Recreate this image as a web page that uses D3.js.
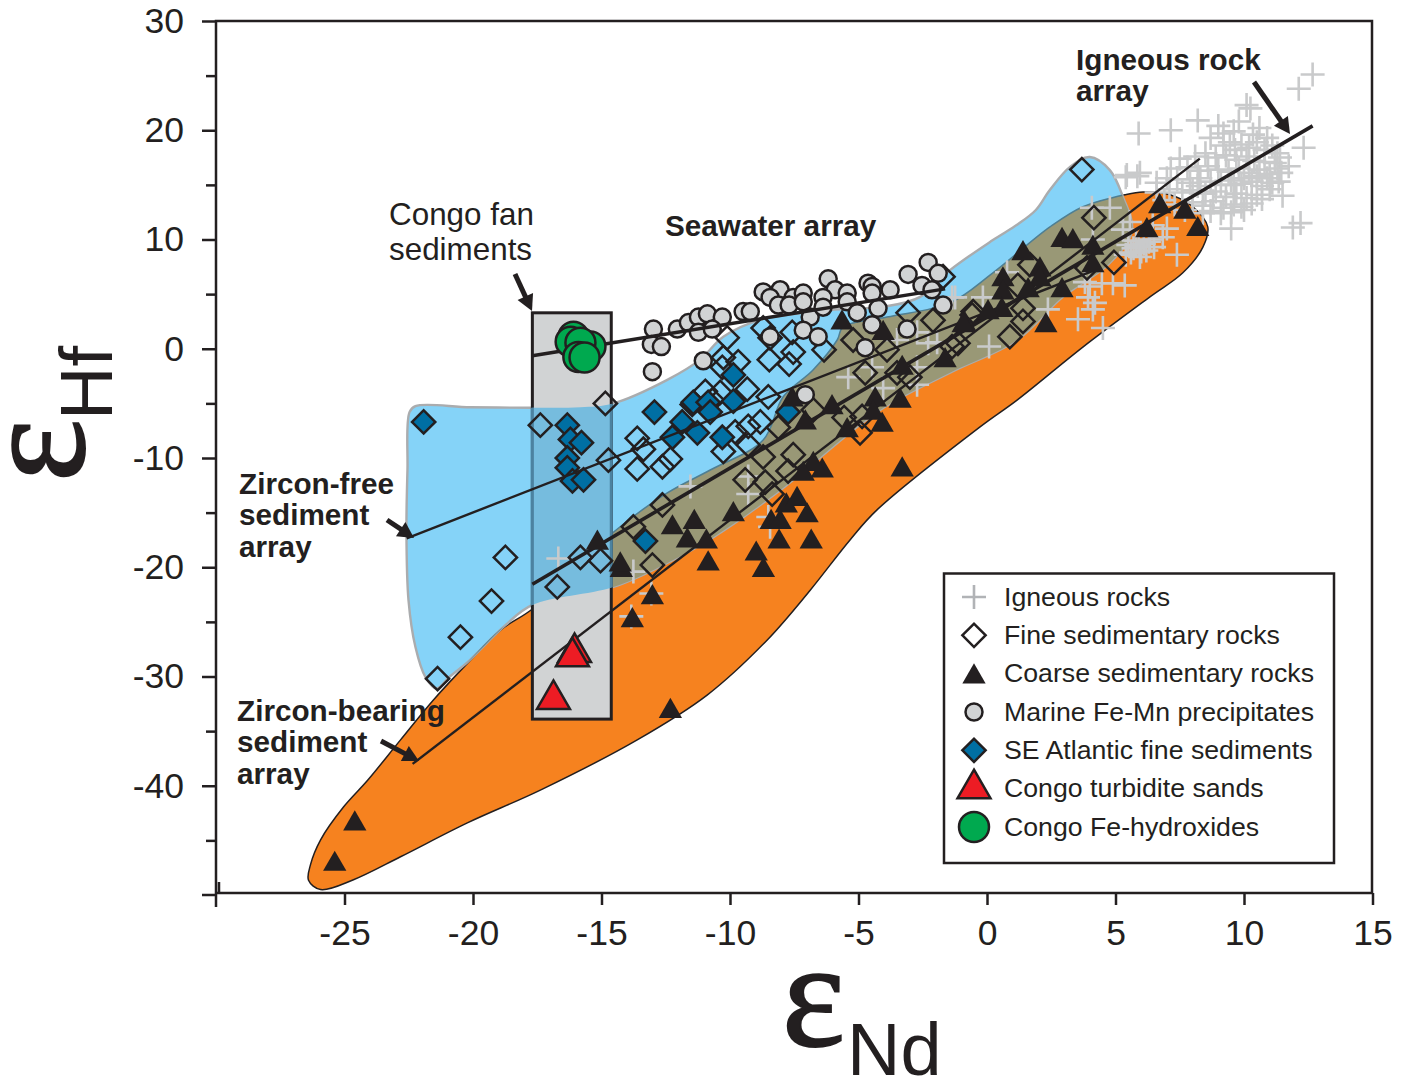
<!DOCTYPE html>
<html>
<head>
<meta charset="utf-8">
<title>eNd - eHf</title>
<script src="https://cdn.jsdelivr.net/npm/d3@7"></script>
<style>
    html, body { margin: 0; padding: 0; background: #fff; }
    svg { display: block; }
    text { font-family: "Liberation Sans", Arial, sans-serif; fill: #231f20; }
</style>
</head>
<body>
<svg id="chart" width="1412" height="1080"></svg>
<script>
'use strict';

const xTicks = [-25, -20, -15, -10, -5, 0, 5, 10, 15];
const yTicks = [30, 20, 10, 0, -10, -20, -30, -40];
const yMinorTicks = [25, 15, 5, -5, -15, -25, -35, -45];

const legendLabels = ['Igneous rocks', 'Fine sedimentary rocks', 'Coarse sedimentary rocks',
    'Marine Fe-Mn precipitates', 'SE Atlantic fine sediments', 'Congo turbidite sands', 'Congo Fe-hydroxides'];

// field outlines, in epsilon units
const coarseField = [[-26.4, -48.65], [-26.32, -47.2], [-25.93, -44.95], [-25.04, -41.95], [-24.1, -39.5], [-22.82, -35.8],
    [-21.54, -32.15], [-20.22, -28.8], [-18.93, -25.75], [-17.65, -23.75], [-14.54, -16.8], [-12.44, -13.2], [-10.77, -11.1], [-8.71, -8.35],
    [-7.93, -4.4], [-6.77, -1.95], [-5.83, 0.8], [-5.6, 2], [-3.89, 2.9], [-1.44, 4.2], [0.23, 6.95], [2.45, 11.15],
    [3.73, 13], [5.37, 14.1], [6.07, 14.35], [7.12, 14.1], [8.01, 13], [8.59, 11.15], [8.4, 9.3], [7.62, 6.95],
    [6.34, 4.75], [3.73, 0.15], [1.17, -4.7], [-0.27, -7.15], [-4.28, -14.75], [-5.33, -17.5], [-6.88, -22.1],
    [-8.55, -26.65], [-10.89, -31.7], [-13.61, -35.8], [-17.38, -40.4], [-20.22, -43.4], [-22.82, -46.5],
    [-24.65, -48.6], [-25.93, -49.5]];

const fineField = [[-22.47, -5.8], [-22.24, -5.25], [-20.1, -5.35], [-17.69, -5.4], [-15.82, -5.35], [-14.54, -5],
    [-12.44, -2.85], [-11.16, -1], [-10.26, 1.1], [-8.83, 2.65], [-6.1, 3.55], [-3.89, 3.9], [-2.6, 4.75], [-1.44, 7.2],
    [0.23, 9.95], [1.2, 11.4], [1.9, 12.7], [2.45, 14.55], [3.23, 16.65], [4, 17.55], [4.78, 16.35], [5.29, 13.9], [5.64, 10.85],
    [4.78, 7.85], [2.95, 4.75], [1.17, 0.8], [-1.44, -2.2], [-4.16, -5.6], [-8.05, -12.95], [-10.65, -17.25],
    [-12.44, -19.6], [-14.54, -21.8], [-17.69, -23.45], [-18.74, -25.3], [-20.22, -28.7], [-20.9, -30], [-21.42, -31.1],
    [-21.85, -30.05], [-22.24, -27.3], [-22.51, -23], [-22.59, -16.6], [-22.55, -11.1]];

const congoBox = [[-17.69, 3.29], [-14.62, -33.9]];

// regression arrays
const seawaterArray = [[-17.69, -0.64], [-1.63, 5.48]];
const zirconFreeArray = [[-22.58, -17.35], [4.2, 7.2]];
const zirconBearingArray = [[-22.35, -38], [8.28, 17.4]];
const igneousArray = [[-17.69, -21.55], [12.67, 20.4]];

const igneousRocks = [[12.67, 25.1], [12.13, 23.8], [12.32, 18.4], [11.74, 16.7], [11.5, 14], [12.2, 11.5], [11.9, 11.1],
    [9.5, 11], [10.1, 22.3], [10.25, 22], [5.9, 19.7], [7.15, 20], [8.2, 20.9], [9, 20.4], [8.7, 19.3], [9.8, 20.8],
    [10.6, 20.2], [10.9, 19.3], [7.5, 17.4], [7.15, 16.5], [5.85, 15.8], [5.4, 15.7],
    [9.2, 18.6], [9.45, 18.9], [9.9, 18.7], [10.2, 18.4], [10.5, 18.9], [10.8, 18.2], [11.1, 18.6], [11.3, 17.9],
    [8.1, 17.6], [8.5, 17.9], [8.9, 17.5], [9.3, 17.7], [9.7, 17.3], [10.1, 17.6], [10.4, 17.2], [10.8, 17.1], [11.2, 17],
    [7.8, 16.6], [8.2, 16.3], [8.6, 16.7], [9, 16.4], [9.4, 16.2], [9.8, 16.5], [10.2, 16.1], [10.6, 16.4], [11, 16], [11.3, 16.5],
    [7.4, 15.5], [7.9, 15.2], [8.3, 15.6], [8.7, 15.3], [9.1, 15], [9.5, 15.4], [9.9, 15.1], [10.3, 15.3], [10.7, 14.9], [11.1, 15.2],
    [7.1, 14.6], [7.6, 14.3], [8, 14.5], [8.5, 14.2], [8.9, 14.4], [9.3, 13.9], [9.7, 14.2], [10.1, 13.8], [10.5, 14.1],
    [8, 13.4], [8.4, 13.1], [8.8, 13.5], [9.2, 12.9], [9.6, 13.2], [10, 12.7], [6.6, 15.2], [6.9, 13.6], [7.3, 13.2], [7.7, 12.7],
    [11.4, 17.5], [11.45, 16.1], [11.35, 15.3], [11, 14.6], [10.7, 13.7], [10.3, 13.3], [9.9, 13], [9.5, 12.5], [9.1, 12.4],
    [8.7, 12.6], [8.4, 12.4], [10.9, 15.6], [10.5, 15.8], [10, 15.6], [9.6, 15], [8.2, 14.9], [7, 15.6], [6.6, 14.3],
    [9.65, 18.2], [10.35, 19.6], [9.2, 19.7], [9.6, 19.9],
    [5.5, 9.5], [5.7, 9.2], [5.9, 9.4], [6.1, 9.6], [6.2, 9], [5.6, 8.8], [6, 8.9], [5.8, 9.9], [6.3, 9.8], [6.5, 9.3], [5.4, 8.6],
    [5.56, 11.6], [6.45, 11.3], [7, 11], [6.84, 10.2], [7.39, 8.6], [6.34, 10], [5.95, 8.4], [4.78, 12.9], [4.08, 12.9],
    [5.95, 16.1], [5.44, 15.9], [5.36, 5.8], [4.9, 6], [4.47, 6], [3.93, 4.7], [4.2, 4.2], [4.12, 3.6], [3.54, 2.7], [4.51, 1.9],
    [0.08, 0.2], [2.37, 3.6], [-1.36, 4.7], [-0.16, 4.7], [0.78, 7], [4, 5.7], [3.81, 6.1], [4.12, 10], [5.29, 10.9],
    [-5.4, -2.6], [-4.47, -1.7], [-4.04, -3.6], [-2.72, -3.3], [-2.72, -1.7], [-3.5, 0.8], [-2.72, 1.5], [-2.29, 0.5], [-1.94, 0.6],
    [-1.24, 4.7], [-9.29, -11.7], [-9.29, -13.3], [-11.54, -12.6], [-8.44, -16.3], [-16.68, -19.2], [-13.76, -20.4],
    [-13.06, -22.4], [-13.84, -24.5], [-8.51, -15.4]];

const fineSediments = [[-14.85, -5], [-17.38, -7], [-14.73, -10.2], [-18.74, -19.1], [-15.82, -19.1], [-15.04, -19.4],
    [-16.72, -21.8], [-19.28, -23.1], [-20.49, -26.4], [-21.38, -30.2], [-13.61, -8.2], [-13.37, -9.2], [-13.61, -11],
    [-12.63, -10.8], [-12.32, -10.1], [-12.63, -14.3], [-13.76, -16.3], [-13.02, -19.8], [-10.11, 1], [-10.26, -0.8],
    [-9.68, -1.2], [-10.3, -1.7], [-8.47, -1], [-7.54, -0.3], [-7.7, -1.4], [-7.58, 1.5], [-8.71, 1.9], [-8.44, 1],
    [-6.34, -0.1], [-5.21, 0.8], [-3.89, -0.1], [-4.74, -2.2], [-3.5, -2.2], [-3.07, 3.3], [-2.1, 2.6], [-1.71, 6.6],
    [-0.58, 3.1], [-1.13, 0.5], [-9.33, -3.7], [-8.51, -4.4], [-10.96, -3.9], [-10.38, -4], [-10.69, -4.7], [-6.76, -5.6],
    [-8.12, -7.2], [-5.56, -6.3], [-4.94, -7.7], [-4.86, -6.2], [-9.8, -7.6], [-9.29, -7.1], [-8.82, -6.7], [-9.29, -8.8],
    [-10.26, -9.4], [-8.71, -9.9], [-7.54, -9.7], [-7.74, -11.2], [-9.41, -12], [-8.63, -12.2], [-8.36, -13.3], [-3, -2.6],
    [3.69, 16.4], [4.16, 12], [4.94, 7.9], [1.67, 7.7], [1.2, 5.8], [0.89, 1.1], [1.4, 2.5], [1.4, 3.7], [-0.54, 3.4],
    [-1.36, 0.2], [3.89, 7.4]];

const coarseSediments = [[-25.38, -46.9], [-24.6, -43.2], [-12.32, -32.9], [-13.8, -24.6], [-13.02, -22.5], [-14.23, -20],
    [-14.27, -19.5], [-15.16, -17.5], [-12.24, -16.1], [-11.39, -15.6], [-11.66, -17.3], [-10.92, -17.4], [-10.85, -19.4],
    [-9.87, -14.9], [-8.98, -18.5], [-8.7, -20], [-8.09, -17.4], [-8.4, -15.6], [-8.05, -15.6], [-6.84, -17.4], [-7, -15],
    [-7.81, -14.1], [-7.39, -13.5], [-6.41, -10.9], [-6.76, -10.3], [-7.15, -11.2], [-3.3, -10.8], [-4.08, -6.7], [-3.38, -4.5],
    [-4.35, -4.4], [-4.43, -5.6], [-5.44, -7.2], [-3.3, -1.5], [-1.63, -0.8], [-4.04, 1.7], [-5.64, 2.65], [-6.03, -5.1],
    [-7.07, -6.5], [-7.58, -4.4], [-0.86, 2.5], [1.4, 9], [2.92, 10.2], [3.34, 10.1], [4.12, 9.5], [4.12, 7.9], [6.22, 11.1],
    [6.72, 13.3], [7.7, 12.8], [8.2, 11.2], [2.92, 5.6], [2.29, 2.4], [2.06, 7.5], [2.06, 6.6], [1.6, 5.6], [0.62, 6.6],
    [0.62, 5.4], [0.58, 3.8], [0.04, 3.6], [-0.93, 2.4]];

const feMnPrecipitates = [[-12.98, 1.8], [-13.06, 0.4], [-12.67, 0.2], [-13.02, -2.1], [-12.05, 1.8], [-11.62, 2.4], [-11.23, 2.9],
    [-10.88, 3.2], [-10.3, 2.9], [-9.49, 3.4], [-9.21, 3.4], [-11.23, 1.5], [-10.69, 1.8], [-11.04, -1.1], [-8.71, 5.2], [-8.05, 5.4],
    [-8.44, 4.7], [-7.54, 4.7], [-7.15, 5.1], [-8.12, 4], [-7.7, 4], [-7.15, 4.3], [-8.44, 1.1], [-6.88, 2.9], [-7.15, 1.7],
    [-6.57, 1.1], [-6.18, 6.4], [-5.91, 5.4], [-6.38, 4.7], [-6.38, 3.8], [-5.44, 5.1], [-5.44, 4.3], [-5.05, 3.3], [-4.63, 6],
    [-4.47, 5.7], [-4.47, 5.1], [-4.24, 3.7], [-3.77, 5.4], [-4.47, 2.2], [-4.74, 0.1], [-3.11, 1.8], [-3.07, 6.8], [-2.53, 5.8],
    [-2.14, 5.4], [-2.29, 7.9], [-1.9, 6.9], [-1.71, 4], [-7.07, -4.2]];

const seAtlanticSediments = [[-21.92, -6.7], [-16.33, -7], [-16.21, -8.3], [-15.78, -8.6], [-16.33, -10], [-16.33, -10.9],
    [-16.13, -12.1], [-15.7, -12], [-12.94, -5.8], [-11.86, -6.7], [-11.47, -5.1], [-12.24, -8.1], [-13.29, -17.6], [-11.27, -7.7],
    [-9.87, -2.4], [-11.43, -4.9], [-10.85, -4.9], [-9.87, -4.8], [-10.77, -5.8], [-10.3, -8.1], [-7.74, -5.8]];

const turbiditeSands = [[-16.05, -27.8], [-16.13, -28.2], [-16.87, -32.1]];

const feHydroxides = [[-16.09, 1.1], [-16.2, 0.65], [-15.43, 0.2], [-15.82, 0.55], [-15.9, -0.75], [-15.66, -0.8]];

const ink = '#231f20';
const x = d3.scaleLinear().domain([-30, 15]).range([216, 1372.5]);
const y = d3.scaleLinear().domain([30, -50]).range([21, 895]);
const svg = d3.select('#chart');

const triangleSmall = d3.symbol().type(d3.symbolTriangle).size(235)();
const triangleBig = d3.symbol().type(d3.symbolTriangle).size(470)();
const square = d3.symbol().type(d3.symbolSquare).size(270)();

// each marker is drawn at 0,0 and moved into place by the caller
const markers = {
    cross: function (g, stroke) {
        const arm = 12;
        g.append('path').attr('d', 'M' + (-arm) + ',0H' + arm + 'M0,' + (-arm) + 'V' + arm)
            .attr('fill', 'none').attr('stroke', stroke || '#c9cacb').attr('stroke-width', 2.6);
    },
    fine: function (g) {
        g.append('path').attr('d', square).attr('transform', 'rotate(45)')
            .attr('fill', 'none').attr('stroke', ink).attr('stroke-width', 2.5);
    },
    coarse: function (g) {
        // values were read at the middle of the triangle, d3 centres on the centroid
        g.append('path').attr('d', triangleSmall).attr('transform', 'translate(0,3)').attr('fill', ink);
    },
    feMn: function (g) {
        g.append('circle').attr('r', 8.5).attr('fill', '#d1d3d4').attr('stroke', ink).attr('stroke-width', 2.5);
    },
    atlantic: function (g) {
        g.append('path').attr('d', square).attr('transform', 'rotate(45)')
            .attr('fill', '#006fa3').attr('stroke', ink).attr('stroke-width', 2.5);
    },
    turbidite: function (g) {
        g.append('path').attr('d', triangleBig).attr('fill', '#ed1c24')
            .attr('stroke', ink).attr('stroke-width', 2.5);
    },
    hydroxide: function (g) {
        g.append('circle').attr('r', 15).attr('fill', '#00a94f').attr('stroke', ink).attr('stroke-width', 2.5);
    }
};

function drawPoints(data, marker) {
    svg.append('g').selectAll('g')
        .data(data)
        .enter().append('g')
        .attr('transform', d => 'translate(' + x(d[0]) + ',' + y(d[1]) + ')')
        .each(function () { marker(d3.select(this)); });
}

function drawArray(data, width) {
    svg.append('line')
        .attr('x1', x(data[0][0])).attr('y1', y(data[0][1]))
        .attr('x2', x(data[1][0])).attr('y2', y(data[1][1]))
        .attr('stroke', ink).attr('stroke-width', width);
}

const outline = d3.line().x(d => x(d[0])).y(d => y(d[1])).curve(d3.curveCatmullRomClosed.alpha(0.5));
const boxX = x(congoBox[0][0]);
const boxY = y(congoBox[0][1]);
const boxW = x(congoBox[1][0]) - boxX;
const boxH = y(congoBox[1][1]) - boxY;

svg.append('clipPath').attr('id', 'fine-clip').append('path').attr('d', outline(fineField));

svg.append('path').attr('d', outline(coarseField))
    .attr('fill', '#f6821f').attr('stroke', ink).attr('stroke-width', 1.5);
svg.append('path').attr('d', outline(fineField))
    .attr('fill', '#85d3f8').attr('stroke', '#aaacae').attr('stroke-width', 2.4);
svg.append('g').attr('clip-path', 'url(#fine-clip)')
    .append('path').attr('d', outline(coarseField))
    .attr('fill', '#999876').attr('stroke', '#4f7f93').attr('stroke-width', 1.5);

// the grey Congo box hides the orange field but the blue one shows through it
svg.append('rect').attr('x', boxX).attr('y', boxY).attr('width', boxW).attr('height', boxH)
    .attr('fill', '#d1d3d4').attr('stroke', ink).attr('stroke-width', 3);
svg.append('rect').attr('x', boxX).attr('y', boxY).attr('width', boxW).attr('height', boxH)
    .attr('clip-path', 'url(#fine-clip)')
    .attr('fill', '#76bcde').attr('stroke', '#4c82a0').attr('stroke-width', 3);

drawPoints(igneousRocks, markers.cross);
drawPoints(fineSediments, markers.fine);
drawPoints(feMnPrecipitates, markers.feMn);
drawPoints(seAtlanticSediments, markers.atlantic);

drawArray(seawaterArray, 3.4);
drawArray(zirconFreeArray, 2.4);
drawArray(zirconBearingArray, 2.4);
drawArray(igneousArray, 3.6);

drawPoints(coarseSediments, markers.coarse);
drawPoints(turbiditeSands, markers.turbidite);
drawPoints(feHydroxides, markers.hydroxide);

// axes
const axisBase = 893;
const tickLabel = d => String(d); // plain hyphen, not the d3 minus sign

const xAxis = svg.append('g').attr('transform', 'translate(0,' + axisBase + ')')
    .call(d3.axisBottom(x).tickValues(xTicks).tickSize(12).tickSizeOuter(0).tickPadding(15).tickFormat(tickLabel));
const yAxis = svg.append('g').attr('transform', 'translate(216,0)')
    .call(d3.axisLeft(y).tickValues(yTicks).tickSize(14).tickSizeOuter(0).tickPadding(18).tickFormat(tickLabel));
const yMinor = svg.append('g').attr('transform', 'translate(216,0)')
    .call(d3.axisLeft(y).tickValues(yMinorTicks).tickSize(10).tickSizeOuter(0).tickFormat(''));

[xAxis, yAxis, yMinor].forEach(function (axis) {
    axis.selectAll('.domain').remove();
    axis.selectAll('line').attr('stroke', ink).attr('stroke-width', 2.5);
    axis.selectAll('text').style('font-size', '35.5px').style('font-family', '"Liberation Sans", Arial, sans-serif')
        .attr('fill', ink);
});

const frame = 'M216,907V21H1372V' + axisBase + 'H216M202,895H216M219,882V' + axisBase;
svg.append('path').attr('d', frame).attr('fill', 'none').attr('stroke', ink).attr('stroke-width', 2.5);

// axis titles
const epsilonFont = '"Liberation Serif", serif';
svg.append('text').attr('x', 782).attr('y', 1046)
    .style('font-family', epsilonFont).style('font-size', '150px')
    .attr('stroke', ink).attr('stroke-width', 2).text('\u03b5');
svg.append('text').attr('x', 847).attr('y', 1075).style('font-size', '74px').text('Nd');
svg.append('text').attr('transform', 'translate(84,482) rotate(-90)')
    .style('font-family', epsilonFont).style('font-size', '150px')
    .attr('stroke', ink).attr('stroke-width', 2).text('\u03b5');
svg.append('text').attr('transform', 'translate(112,420) rotate(-90)').style('font-size', '74px').text('Hf');

// annotations
function note(lines, left, top, step, size, weight) {
    lines.forEach(function (line, i) {
        svg.append('text').attr('x', left).attr('y', top + i * step)
            .style('font-size', size + 'px').style('font-weight', weight).text(line);
    });
}

note(['Igneous rock', 'array'], 1076, 70, 31, 29.7, 'bold');
note(['Seawater array'], 665, 236, 0, 29.7, 'bold');
note(['Congo fan', 'sediments'], 389, 225, 35, 31.4, 'normal');
note(['Zircon-free', 'sediment', 'array'], 239, 493.5, 31.5, 29.7, 'bold');
note(['Zircon-bearing', 'sediment', 'array'], 237, 720.5, 31.5, 29.7, 'bold');

function pointer(x1, y1, x2, y2) {
    const angle = Math.atan2(y2 - y1, x2 - x1) * 180 / Math.PI;
    svg.append('line').attr('x1', x1).attr('y1', y1).attr('x2', x2 - 10 * Math.cos(angle * Math.PI / 180))
        .attr('y2', y2 - 10 * Math.sin(angle * Math.PI / 180))
        .attr('stroke', ink).attr('stroke-width', 5);
    svg.append('path').attr('d', 'M0,0L-16,-8.5L-16,8.5Z')
        .attr('transform', 'translate(' + x2 + ',' + y2 + ') rotate(' + angle + ')')
        .attr('fill', ink);
}

pointer(515, 274, 532, 311);
pointer(387, 520, 414, 538);
pointer(381, 741, 419, 761);
pointer(1254, 82, 1290, 134);

// legend
svg.append('rect').attr('x', 944).attr('y', 573.5).attr('width', 390).attr('height', 289.5)
    .attr('fill', '#fff').attr('stroke', ink).attr('stroke-width', 2.5);

const legendMarkers = [
    g => markers.cross(g, '#b1b3b6'), markers.fine, markers.coarse, markers.feMn,
    markers.atlantic, markers.turbidite, markers.hydroxide
];
const legendRows = d3.scaleLinear().domain([0, 6]).range([597, 827]);

legendLabels.forEach(function (label, i) {
    const row = svg.append('g').attr('transform', 'translate(974,' + legendRows(i) + ')');
    legendMarkers[i](row);
    svg.append('text').attr('x', 1004).attr('y', legendRows(i) + 8.5)
        .style('font-size', '26.7px').text(label);
});
</script>
</body>
</html>
